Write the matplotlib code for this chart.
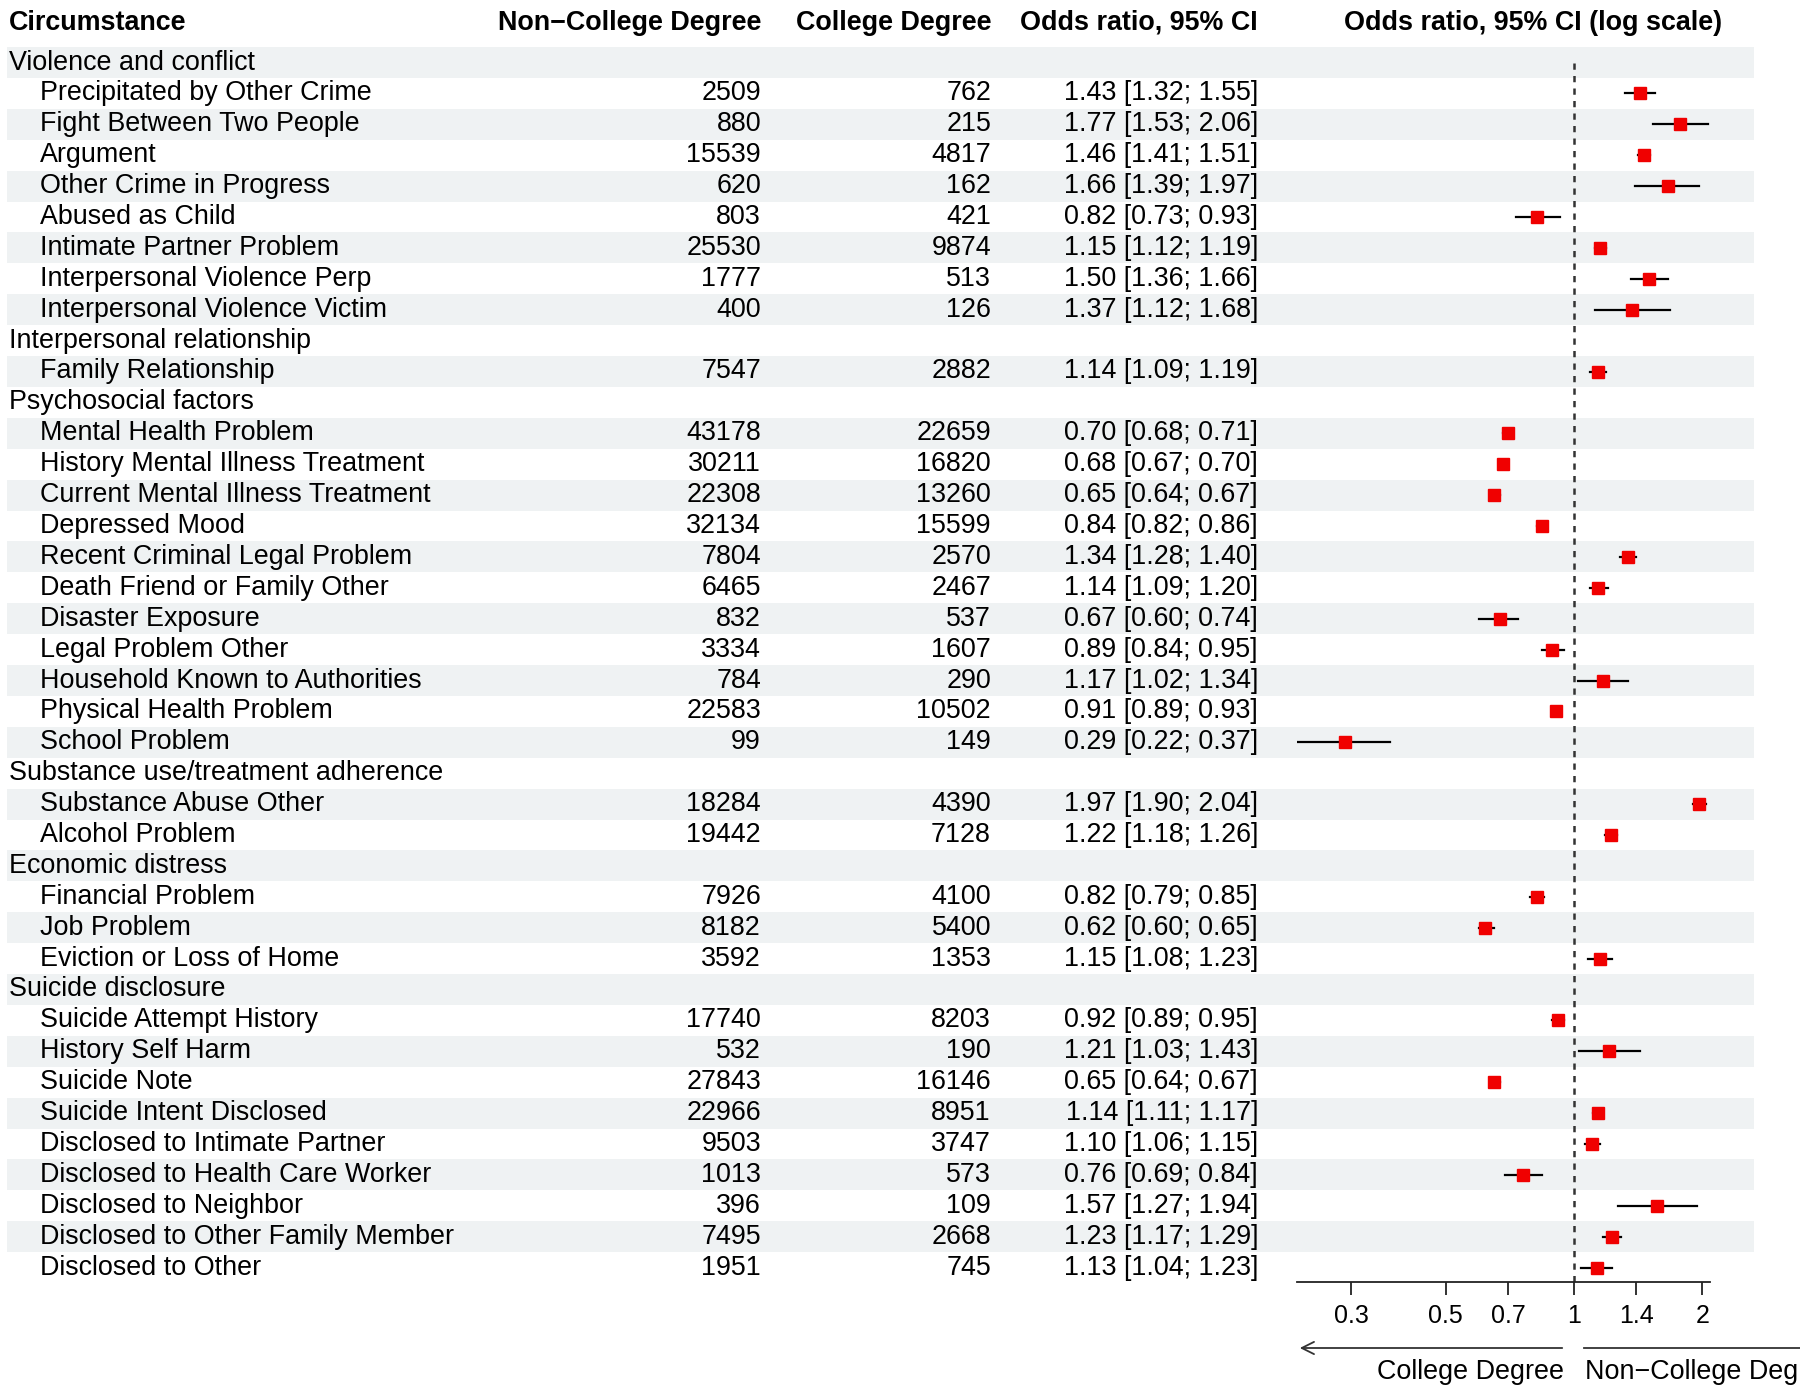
import matplotlib
matplotlib.use("Agg")
import matplotlib.pyplot as plt
import numpy as np

plt.rcParams['font.family'] = ['Liberation Sans', 'DejaVu Sans']

group_names = ["Violence and conflict", "Interpersonal relationship", "Psychosocial factors",
               "Substance use/treatment adherence", "Economic distress", "Suicide disclosure"]
group_sizes = [8, 1, 11, 2, 3, 9]

circumstances = [
    "Precipitated by Other Crime", "Fight Between Two People", "Argument", "Other Crime in Progress",
    "Abused as Child", "Intimate Partner Problem", "Interpersonal Violence Perp", "Interpersonal Violence Victim",
    "Family Relationship",
    "Mental Health Problem", "History Mental Illness Treatment", "Current Mental Illness Treatment",
    "Depressed Mood", "Recent Criminal Legal Problem", "Death Friend or Family Other", "Disaster Exposure",
    "Legal Problem Other", "Household Known to Authorities", "Physical Health Problem", "School Problem",
    "Substance Abuse Other", "Alcohol Problem",
    "Financial Problem", "Job Problem", "Eviction or Loss of Home",
    "Suicide Attempt History", "History Self Harm", "Suicide Note", "Suicide Intent Disclosed",
    "Disclosed to Intimate Partner", "Disclosed to Health Care Worker", "Disclosed to Neighbor",
    "Disclosed to Other Family Member", "Disclosed to Other",
]
n_noncollege = [2509, 880, 15539, 620, 803, 25530, 1777, 400,
                7547,
                43178, 30211, 22308, 32134, 7804, 6465, 832, 3334, 784, 22583, 99,
                18284, 19442,
                7926, 8182, 3592,
                17740, 532, 27843, 22966, 9503, 1013, 396, 7495, 1951]
n_college = [762, 215, 4817, 162, 421, 9874, 513, 126,
             2882,
             22659, 16820, 13260, 15599, 2570, 2467, 537, 1607, 290, 10502, 149,
             4390, 7128,
             4100, 5400, 1353,
             8203, 190, 16146, 8951, 3747, 573, 109, 2668, 745]
odds_ratio = [1.43, 1.77, 1.46, 1.66, 0.82, 1.15, 1.50, 1.37,
              1.14,
              0.70, 0.68, 0.65, 0.84, 1.34, 1.14, 0.67, 0.89, 1.17, 0.91, 0.29,
              1.97, 1.22,
              0.82, 0.62, 1.15,
              0.92, 1.21, 0.65, 1.14, 1.10, 0.76, 1.57, 1.23, 1.13]
ci_low = [1.32, 1.53, 1.41, 1.39, 0.73, 1.12, 1.36, 1.12,
          1.09,
          0.68, 0.67, 0.64, 0.82, 1.28, 1.09, 0.60, 0.84, 1.02, 0.89, 0.22,
          1.90, 1.18,
          0.79, 0.60, 1.08,
          0.89, 1.03, 0.64, 1.11, 1.06, 0.69, 1.27, 1.17, 1.04]
ci_high = [1.55, 2.06, 1.51, 1.97, 0.93, 1.19, 1.66, 1.68,
           1.19,
           0.71, 0.70, 0.67, 0.86, 1.40, 1.20, 0.74, 0.95, 1.34, 0.93, 0.37,
           2.04, 1.26,
           0.85, 0.65, 1.23,
           0.95, 1.43, 0.67, 1.17, 1.15, 0.84, 1.94, 1.29, 1.23]
x_ticks = [0.3, 0.5, 0.7, 1, 1.4, 2]
x_tick_labels = ["0.3", "0.5", "0.7", "1", "1.4", "2"]
headers = ["Circumstance", "Non\u2212College Degree", "College Degree", "Odds ratio, 95% CI",
           "Odds ratio, 95% CI (log scale)"]

# ---- layout (pixels) ----
W, H = 1800, 1396
FS = 19.4
ROW0, DY = 62.5, 30.9
def row_y(i):
    return ROW0 + i * DY

rows = []  # (kind, label, item_index)
k = 0
for g, size in zip(group_names, group_sizes):
    rows.append(("group", g, None))
    for _ in range(size):
        rows.append(("item", circumstances[k], k))
        k += 1

fig = plt.figure(figsize=(W / 100, H / 100), dpi=100)
ax0 = fig.add_axes([0, 0, 1, 1])
ax0.set_xlim(0, W)
ax0.set_ylim(H, 0)
ax0.axis("off")

for i in range(len(rows)):
    if i % 2 == 0:
        ax0.add_patch(plt.Rectangle((7, row_y(i) - DY / 2), 1754 - 7, DY,
                                    facecolor="#EFF2F3", edgecolor="none", zorder=0))

hy = 22.5
ax0.text(9, hy, headers[0], fontsize=FS, fontweight="bold", ha="left", va="center")
ax0.text(761, hy, headers[1], fontsize=FS, fontweight="bold", ha="right", va="center")
ax0.text(991, hy, headers[2], fontsize=FS, fontweight="bold", ha="right", va="center")
ax0.text(1258, hy, headers[3], fontsize=FS, fontweight="bold", ha="right", va="center")
ax0.text(1533, hy, headers[4], fontsize=FS, fontweight="bold", ha="center", va="center")

for i, (kind, label, idx) in enumerate(rows):
    y = row_y(i)
    if kind == "group":
        ax0.text(9, y, label, fontsize=FS, ha="left", va="center")
    else:
        ax0.text(40, y, label, fontsize=FS, ha="left", va="center")
        ax0.text(761, y, f"{n_noncollege[idx]}", fontsize=FS, ha="right", va="center")
        ax0.text(991, y, f"{n_college[idx]}", fontsize=FS, ha="right", va="center")
        ax0.text(1258, y, f"{odds_ratio[idx]:.2f} [{ci_low[idx]:.2f}; {ci_high[idx]:.2f}]",
                 fontsize=FS, ha="right", va="center")

# forest axes
x_left, x_right = 1297, 1710
y_top, y_axis = 46.5, 1282
axf = fig.add_axes([x_left / W, 1 - y_axis / H, (x_right - x_left) / W, (y_axis - y_top) / H])
axf.patch.set_alpha(0)
axf.set_xscale("log")
axf.set_xlim(0.224, 2.086)
axf.set_ylim(y_axis, y_top)
for s in ["top", "right", "left"]:
    axf.spines[s].set_visible(False)
axf.spines["bottom"].set_linewidth(1.3)
axf.spines["bottom"].set_color("#222222")
axf.set_yticks([])
axf.set_xticks(x_ticks)
axf.set_xticklabels(x_tick_labels)
axf.xaxis.set_minor_locator(matplotlib.ticker.NullLocator())
axf.tick_params(axis="x", length=9, width=1.3, color="#222222", labelsize=18, pad=7)

axf.plot([1, 1], [row_y(0), y_axis], color="#333333", lw=1.8, ls=(0, (2.5, 2.5)), zorder=1)

for i, (kind, label, idx) in enumerate(rows):
    if kind != "item":
        continue
    y = row_y(i)
    axf.plot([ci_low[idx], ci_high[idx]], [y, y], color="black", lw=1.6, zorder=2)
    axf.plot([odds_ratio[idx]], [y], marker="s", ms=8.5, color="#F00000", mec="#F00000", zorder=3)

ay = 1348
ax0.annotate("", xy=(1297, ay), xytext=(1565, ay),
             arrowprops=dict(arrowstyle="->", lw=1.3, color="#333333", mutation_scale=22))
ax0.plot([1584, 1805], [ay, ay], color="#333333", lw=1.3)
ax0.text(1564, 1372, "College Degree", fontsize=FS, ha="right", va="center")
ax0.text(1585, 1372, "Non\u2212College Degree", fontsize=FS, ha="left", va="center", clip_on=False)

fig.savefig("out.png", dpi=100)
